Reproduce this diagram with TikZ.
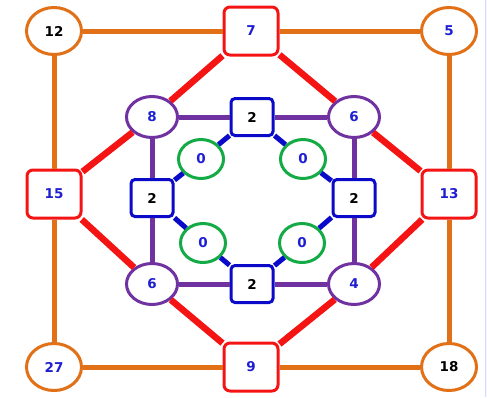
\documentclass[tikz,border=0pt]{standalone}
\usepackage{fontspec}
\setmainfont{DejaVu Sans}
\usetikzlibrary{shapes.geometric}
\definecolor{orng}{RGB}{226,112,22}
\definecolor{rd}{RGB}{245,20,20}
\definecolor{purp}{RGB}{112,50,160}
\definecolor{blu}{RGB}{10,10,200}
\definecolor{grn}{RGB}{20,170,70}
\definecolor{txtblue}{RGB}{30,30,210}
\tikzset{
	lbl/.style={font=\bfseries\fontsize{13.5}{15}\selectfont, fill=white, inner sep=0pt, line width=3pt},
	orangenode/.style={lbl, ellipse, draw=orng, minimum width=55pt, minimum height=47pt},
	rednode/.style={lbl, rectangle, rounded corners=6pt, draw=rd, minimum width=54pt, minimum height=48pt},
	purplenode/.style={lbl, ellipse, draw=purp, minimum width=51pt, minimum height=41pt},
	bluenode/.style={lbl, rectangle, rounded corners=4pt, draw=blu, minimum width=42pt, minimum height=37pt},
	greennode/.style={lbl, ellipse, draw=grn, minimum width=45pt, minimum height=39pt},
	orangeline/.style={draw=orng, line width=5pt},
	redline/.style={draw=rd, line width=6.5pt},
	purpleline/.style={draw=purp, line width=5pt},
	blueline/.style={draw=blu, line width=5pt}
}

\begin{document}
\begin{tikzpicture}[x=1pt, y=-1pt]
		%%%%% FRAME %%%%%
		\useasboundingbox (0, 0) rectangle (487, 397);
		\fill[white] (0, 0) rectangle (487, 397);
		\fill[blue!3] (485, 0) rectangle (487, 397);
		\draw[blue!15, line width=0.8pt] (485, 0) -- (485, 397);
		
		%%%%% NODES %%%%%
		\node[orangenode, text=black] (n12) at (54, 31) {12};
		\node[rednode, text=txtblue] (n7) at (251, 31) {7};
		\node[orangenode, text=txtblue] (n5) at (449, 31) {5};
		
		\node[rednode, text=txtblue] (n15) at (54, 194) {15};
		\node[rednode, text=txtblue] (n13) at (449, 194) {13};
		
		\node[orangenode, text=txtblue] (n27) at (54, 367) {27};
		\node[rednode, text=txtblue] (n9) at (251, 367) {9};
		\node[orangenode, text=black] (n18) at (449, 367) {18};
		
		\node[purplenode, text=txtblue] (p8) at (152, 117) {8};
		\node[purplenode, text=txtblue] (p6) at (354, 117) {6};
		\node[purplenode, text=txtblue] (q6) at (152, 284) {6};
		\node[purplenode, text=txtblue] (q4) at (354, 284) {4};
		
		\node[bluenode, text=black] (btop) at (252, 117) {2};
		\node[bluenode, text=black] (bleft) at (152, 198) {2};
		\node[bluenode, text=black] (bright) at (354, 198) {2};
		\node[bluenode, text=black] (bbot) at (252, 284) {2};
		
		\node[greennode, text=txtblue] (g1) at (201, 159) {0};
		\node[greennode, text=txtblue] (g2) at (303, 159) {0};
		\node[greennode, text=txtblue] (g3) at (203, 243) {0};
		\node[greennode, text=txtblue] (g4) at (302, 243) {0};
		
		%%%%% EDGES %%%%%
		\path[orangeline] (n12) -- (n7) (n7) -- (n5) (n12) -- (n15) (n5) -- (n13)
			(n15) -- (n27) (n13) -- (n18) (n27) -- (n9) (n9) -- (n18);
		\path[redline] (n7) -- (p8) (n7) -- (p6) (p8) -- (n15) (p6) -- (n13)
			(n15) -- (q6) (n13) -- (q4) (q6) -- (n9) (q4) -- (n9);
		\path[purpleline] (p8) -- (btop) (btop) -- (p6) (p8) -- (bleft) (p6) -- (bright)
			(bleft) -- (q6) (bright) -- (q4) (q6) -- (bbot) (bbot) -- (q4);
		\path[blueline] (btop) -- (g1) (g1) -- (bleft) (btop) -- (g2) (g2) -- (bright)
			(bleft) -- (g3) (g3) -- (bbot) (bright) -- (g4) (g4) -- (bbot);
		
		%%%%% END %%%%%
	\end{tikzpicture}
\end{document}
